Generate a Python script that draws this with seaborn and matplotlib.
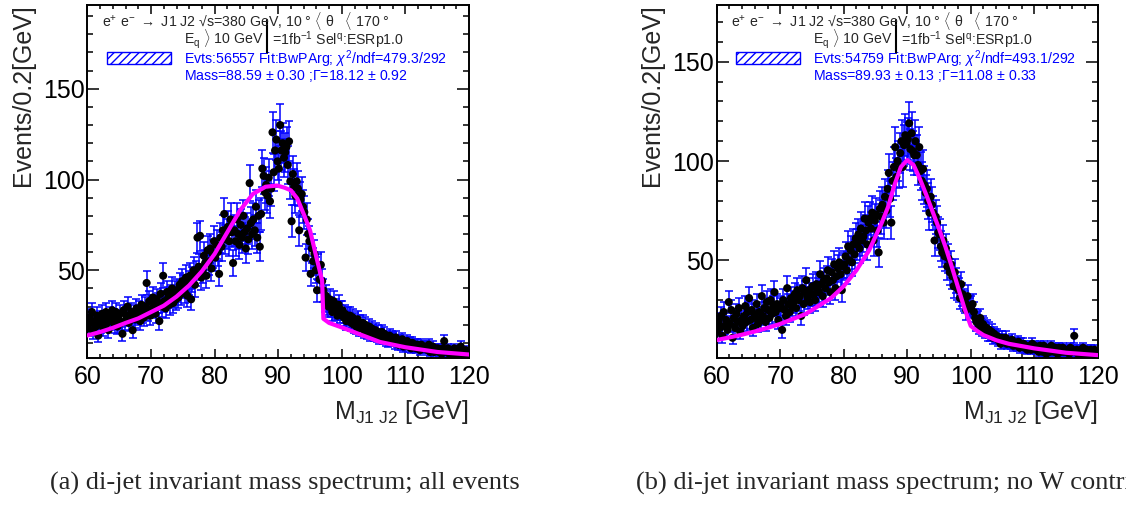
import numpy as np
import pandas as pd
import matplotlib
matplotlib.use("Agg")
import matplotlib.pyplot as plt
import seaborn as sns
from matplotlib.patches import Rectangle
from matplotlib.ticker import MultipleLocator

# ---------------- data ----------------
# 300 bins of 0.2 GeV between 60 and 120 GeV
n_bins = 300
bin_width = 0.2
mass_lo = 60.0

# (a) all events - counts per bin (5 bins per GeV, one row per GeV from 60 to 119)
counts_a = [
    18, 24, 21, 27, 16,   22, 19, 25, 14, 23,   20, 26, 18, 23, 27,   21, 17, 25, 22, 28,
    24, 20, 27, 19, 23,   26, 21, 15, 28, 22,   25, 30, 21, 24, 27,   17, 26, 23, 29, 25,
    28, 22, 31, 26, 24,   30, 43, 27, 33, 25,   29, 35, 31, 26, 34,   32, 22, 37, 30, 47,
    33, 29, 38, 35, 31,   36, 40, 32, 38, 34,   39, 35, 42, 37, 44,   41, 38, 46, 36, 43,
    47, 34, 45, 50, 42,   48, 68, 52, 69, 46,   50, 58, 54, 47, 61,   55, 62, 51, 59, 66,
    57, 64, 60, 48, 68,   63, 72, 81, 67, 70,   74, 66, 78, 71, 54,   72, 66, 78, 70, 64,
    75, 68, 80, 71, 62,   73, 67, 98, 76, 70,   78, 72, 85, 68, 80,   63, 81, 106, 102, 93,
    97, 91, 101, 88, 95,  126, 104, 116, 122, 110,  106, 130, 116, 120, 112,  115, 118, 108, 121, 99,
    77, 103, 96, 91, 99,  95, 72, 89, 92, 85,   82, 57, 78, 70, 66,   48, 62, 55, 59, 50,
    39, 52, 45, 53, 44,   39, 33, 36, 31, 30,   34, 30, 27, 33, 28,   29, 25, 31, 26, 28,
    28, 24, 26, 22, 25,   23, 25, 21, 24, 20,   22, 19, 23, 18, 21,   18, 21, 17, 20, 16,
    17, 19, 15, 18, 16,   15, 17, 14, 16, 13,   14, 16, 13, 15, 12,   13, 11, 14, 12, 13,
    12, 10, 13, 11, 9,    11, 9, 12, 8, 10,     9, 11, 8, 10, 7,      10, 8, 9, 7, 9,
    8, 6, 9, 7, 8,        7, 8, 6, 9, 5,        6, 8, 5, 7, 6,        7, 5, 6, 4, 7,
    11, 6, 5, 7, 4,       5, 6, 4, 7, 5,        4, 6, 5, 8, 4,        5, 3, 6, 4, 4,
]

# (b) no W contribution - counts per bin
counts_b = [
    14, 19, 16, 22, 12,   24, 17, 20, 15, 29,   18, 25, 11, 21, 16,   23, 19, 26, 14, 20,
    17, 22, 27, 19, 24,   31, 20, 25, 16, 23,   21, 28, 18, 24, 20,   32, 22, 26, 19, 29,
    25, 21, 30, 23, 27,   34, 24, 28, 20, 26,   27, 15, 30, 25, 22,   36, 28, 24, 31, 27,
    29, 33, 26, 35, 30,   32, 22, 36, 28, 34,   40, 31, 35, 29, 33,   37, 33, 30, 38, 35,
    34, 43, 38, 32, 40,   36, 41, 45, 39, 34,   44, 40, 48, 36, 42,   46, 49, 43, 35, 47,
    48, 52, 45, 57, 50,   55, 49, 58, 53, 61,   58, 63, 56, 66, 60,   62, 71, 65, 58, 69,
    71, 66, 74, 60, 70,   73, 65, 54, 76, 72,   78, 69, 82, 75, 86,   94, 81, 69, 90, 97,
    107, 92, 100, 96, 104,  110, 97, 108, 113, 109,  111, 119, 106, 114, 105,  103, 110, 103, 98, 107,
    95, 90, 96, 88, 84,   86, 80, 74, 82, 78,   74, 60, 72, 69, 64,   63, 57, 54, 60, 52,
    56, 47, 51, 44, 48,   42, 37, 44, 40, 36,   35, 31, 38, 33, 30,   29, 25, 32, 27, 26,
    27, 28, 24, 21, 19,   20, 17, 21, 16, 18,   17, 15, 16, 13, 15,   13, 14, 11, 13, 12,
    12, 10, 11, 8, 11,    10, 9, 11, 8, 9,      9, 8, 10, 7, 8,       8, 7, 9, 6, 8,
    7, 8, 6, 7, 5,        6, 7, 5, 8, 6,        7, 5, 6, 4, 7,        6, 4, 7, 5, 3,
    5, 6, 4, 7, 5,        4, 6, 5, 3, 6,        5, 4, 6, 4, 5,        4, 5, 3, 6, 4,
    5, 12, 4, 5, 3,       4, 5, 3, 6, 4,        3, 5, 4, 3, 5,        4, 3, 5, 2, 3,
]

# fitted BwPArg curves
fit_a_x = [60, 62, 64, 66, 68, 70, 72, 74, 76, 78, 80, 82, 84, 86, 88, 89.8, 91, 92, 93, 94,
           95, 96, 96.9, 97.1, 98, 100, 103, 106, 110, 115, 120]
fit_a_y = [14.1, 16, 18.3, 21, 23.5, 27, 30.5, 35.5, 41.7, 49.5, 59, 71, 83, 92, 96, 96.7, 95.5,
           94, 89.5, 81, 72, 57.2, 44.4, 23.3, 21, 18.5, 14.5, 10.5, 7.6, 5, 3.6]

fit_b_x = [60, 62, 64, 66, 68, 70, 72, 74, 76, 78, 80, 82, 84, 86, 87, 88, 89, 90, 91, 92,
           93, 94, 95, 96, 97, 98, 99, 100, 101, 102, 104, 106, 110, 115, 120]
fit_b_y = [9.9, 11.2, 12.6, 14.2, 16, 18, 20.5, 23, 27, 31, 37, 45, 55, 69, 77, 88, 97, 100.5,
           98, 91, 83, 74.5, 66, 57, 47, 36.5, 26, 17, 14.5, 12.4, 9.8, 8, 5.7, 3.5, 2.3]

line1 = r"e$^{+}$ e$^{-}$ $\rightarrow$ J1 J2 √s=380 GeV, 10 ° $\langle$ θ   $\langle$ 170 °"
line2a = r"E$_{\mathrm{q}}$ $\rangle$ 10 GeV"
line2b = r"=1fb$^{-1}$ Sel$^{\mathrm{q}}$:ESRp1.0"
evts_a = r"Evts:56557 Fit:BwPArg; $\chi^{2}$/ndf=479.3/292"
mass_a = r"Mass=88.59 $\pm$ 0.30 ;$\Gamma$=18.12 $\pm$ 0.92"
evts_b = r"Evts:54759 Fit:BwPArg; $\chi^{2}$/ndf=493.1/292"
mass_b = r"Mass=89.93 $\pm$ 0.13 ;$\Gamma$=11.08 $\pm$ 0.33"
caption_a = "(a) di-jet invariant mass spectrum; all events"
caption_b = "(b) di-jet invariant mass spectrum; no W contribution"
xlabel = r"M$_{\mathrm{J1\ J2}}$ [GeV]"
ylabel = "Events/0.2[GeV]"

# ---------------- style ----------------
sns.set_theme(style="ticks")
plt.rcParams['font.family'] = ['Liberation Sans', 'DejaVu Sans']
plt.rcParams['mathtext.fontset'] = 'custom'
plt.rcParams['mathtext.rm'] = 'Liberation Sans'
plt.rcParams['mathtext.it'] = 'Liberation Sans:italic'
plt.rcParams['mathtext.bf'] = 'Liberation Sans:bold'
plt.rcParams['mathtext.sf'] = 'Liberation Sans'

BLUE = '#0000ff'
MAGENTA = '#ff00ff'

mass = mass_lo + bin_width / 2 + bin_width * np.arange(n_bins)

fig = plt.figure(figsize=(11.26, 5.05), dpi=100)
axA = fig.add_axes([0.0777, 0.2901, 0.3388, 0.7006])
axB = fig.add_axes([0.6365, 0.2901, 0.3384, 0.7006])


def draw(ax, counts, fx, fy, ylim, evts, mtxt):
    df = pd.DataFrame({'m': mass, 'n': np.asarray(counts, dtype=float)})
    ax.errorbar(df['m'], df['n'], yerr=np.sqrt(df['n']), fmt='none', ecolor=BLUE,
                elinewidth=1.1, capsize=2.8, capthick=1.1, zorder=2)
    sns.scatterplot(data=df, x='m', y='n', ax=ax, color='black', s=34,
                    edgecolor='none', linewidth=0, zorder=3, legend=False)
    fit = pd.DataFrame({'m': fx, 'f': fy})
    sns.lineplot(data=fit, x='m', y='f', ax=ax, color=MAGENTA, lw=3,
                 sort=False, zorder=4, legend=False)

    ax.set_xlim(60, 120)
    ax.set_ylim(*ylim)
    ax.xaxis.set_major_locator(MultipleLocator(10))
    ax.xaxis.set_minor_locator(MultipleLocator(2))
    ax.yaxis.set_major_locator(MultipleLocator(50))
    ax.yaxis.set_minor_locator(MultipleLocator(10))
    ax.tick_params(which='both', direction='in', top=True, right=True,
                   width=1.1, color='black', labelsize=18, labelcolor='black')
    ax.tick_params(axis='x', which='major', length=6.5, pad=5)
    ax.tick_params(axis='x', which='minor', length=3.2)
    ax.tick_params(axis='y', which='major', length=8.5, pad=2)
    ax.tick_params(axis='y', which='minor', length=4.5)
    for s in ax.spines.values():
        s.set_linewidth(1.4)
        s.set_color('black')
    ax.set_xlabel(xlabel, fontsize=18, loc='right', labelpad=6)
    ax.set_ylabel(ylabel, fontsize=18, loc='top', labelpad=6)

    fs = 10.2
    ax.text(0.038, 0.955, line1, transform=ax.transAxes, fontsize=fs, va='center', ha='left')
    ax.text(0.253, 0.901, line2a, transform=ax.transAxes, fontsize=fs, va='center', ha='left')
    ax.text(0.484, 0.901, line2b, transform=ax.transAxes, fontsize=fs, va='center', ha='left')
    ax.plot([0.470, 0.470], [0.864, 0.957], transform=ax.transAxes, color='black', lw=1.5)
    ax.text(0.253, 0.847, evts, transform=ax.transAxes, fontsize=fs, va='center',
            ha='left', color=BLUE)
    ax.text(0.253, 0.798, mtxt, transform=ax.transAxes, fontsize=fs, va='center',
            ha='left', color=BLUE)
    ax.add_patch(Rectangle((0.051, 0.831), 0.168, 0.034, transform=ax.transAxes,
                           facecolor='white', edgecolor=BLUE, hatch='////', lw=1.0))


draw(axA, counts_a, fit_a_x, fit_a_y, (1.4, 196.3), evts_a, mass_a)
draw(axB, counts_b, fit_b_x, fit_b_y, (0.6, 178.7), evts_b, mass_b)

fig.text(50 / 1126, 1 - 483 / 505, caption_a, family=['Liberation Serif', 'DejaVu Serif'],
         fontsize=19, va='center', ha='left')
fig.text(636 / 1126, 1 - 483 / 505, caption_b, family=['Liberation Serif', 'DejaVu Serif'],
         fontsize=19, va='center', ha='left')

fig.savefig('out.png', dpi=100)
